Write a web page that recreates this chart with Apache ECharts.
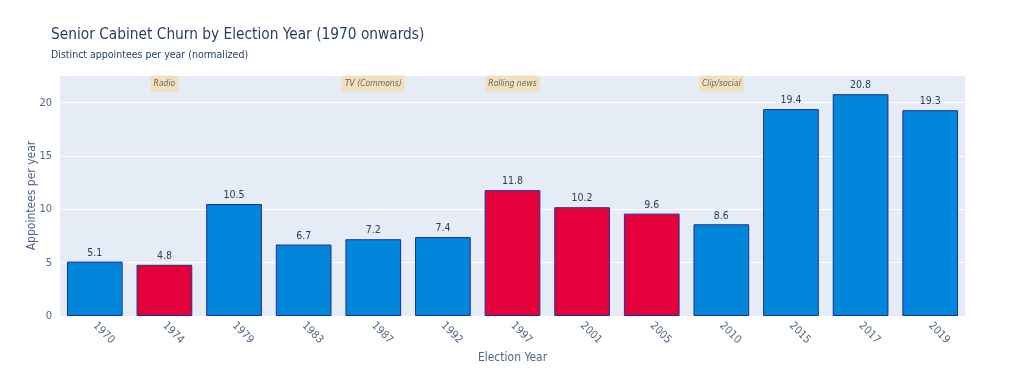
<!DOCTYPE html>
<html><head><meta charset="utf-8">
<script src="https://cdn.jsdelivr.net/npm/echarts@6/dist/echarts.min.js"></script>
<style>html,body{margin:0;padding:0;background:#fff}#c{width:1024px;height:377px}</style>
</head><body><div id="c"></div>
<script>
const years = ['1970','1974','1979','1983','1987','1992','1997','2001','2005','2010','2015','2017','2019'];
const values = [5.1, 4.8, 10.5, 6.7, 7.2, 7.4, 11.8, 10.2, 9.6, 8.6, 19.4, 20.8, 19.3];
const parties = ['Con','Lab','Con','Con','Con','Con','Lab','Lab','Lab','Con','Con','Con','Con'];
const eraYears = ['1974','1987','1997','2010'];
const eraLabels = ['Radio','TV (Commons)','Rolling news','Clip/social'];
const eraLabelY = 21.8;
const yTicks = [0,5,10,15,20];

const colors = {Con:'#0087DC', Lab:'#E4003B'};
const font = '"DejaVu Sans Condensed", "DejaVu Sans", Verdana, sans-serif';
const chart = echarts.init(document.getElementById('c'), null, {renderer:'canvas'});
chart.setOption({
  animation:false,
  backgroundColor:'#fff',
  textStyle:{fontFamily:font},
  title:{
    text:'Senior Cabinet Churn by Election Year (1970 onwards)',
    subtext:'Distinct appointees per year (normalized)',
    left:51, top:28, itemGap:7, padding:0,
    textStyle:{fontFamily:font,fontSize:15.3,fontWeight:'normal',color:'#2a3f5f'},
    subtextStyle:{fontFamily:font,fontSize:10.5,color:'#2a3f5f'}
  },
  grid:{left:60,right:59,top:75,bottom:61,show:true,backgroundColor:'#E5ECF6',borderWidth:0},
  xAxis:{
    type:'category', data:years,
    name:'Election Year', nameLocation:'middle', nameGap:36, nameMoveOverlap:false,
    nameTextStyle:{fontFamily:font,fontSize:12,color:'#506784'},
    axisLine:{show:false}, axisTick:{show:false},
    axisLabel:{rotate:-45,fontFamily:font,fontSize:11,color:'#506784',margin:8}
  },
  yAxis:{
    type:'value', min:0, max:22.6, interval:5,
    name:'Appointees per year', nameLocation:'middle', nameGap:22, nameMoveOverlap:false,
    nameTextStyle:{fontFamily:font,fontSize:12,color:'#506784'},
    axisLine:{show:false}, axisTick:{show:false},
    splitLine:{lineStyle:{color:'#fff',width:1}},
    axisLabel:{fontFamily:font,fontSize:11,color:'#506784',margin:8,
      showMaxLabel:false,
      formatter:v=>yTicks.includes(v)?String(v):''}
  },
  series:[{
    type:'bar', barCategoryGap:'20%',
    data: values.map((v,i)=>({value:v,itemStyle:{color:colors[parties[i]]}})),
    itemStyle:{borderColor:'#1f2f8f',borderWidth:1},
    label:{show:true,position:'top',distance:3,fontFamily:font,fontSize:10.5,color:'#2a3f5f',formatter:p=>p.value.toFixed(1)},
    markPoint:{
      symbol:'rect', symbolSize:0, silent:true,
      label:{show:true,position:'inside',fontFamily:font,fontSize:8.5,fontStyle:'italic',color:'#666',
        backgroundColor:'rgba(245,222,179,0.85)',padding:[4,3,3,3],formatter:p=>p.name},
      data: eraYears.map((y,i)=>({name:eraLabels[i],coord:[y,eraLabelY]}))
    }
  }]
});
</script></body></html>
